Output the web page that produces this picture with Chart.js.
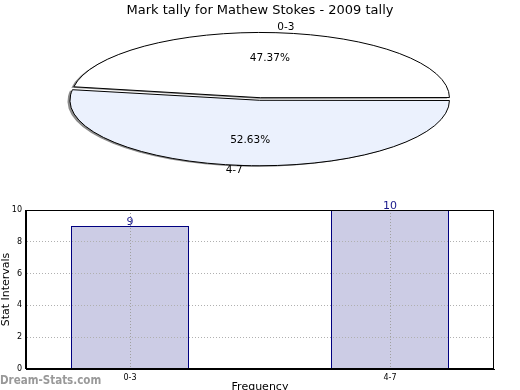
<!DOCTYPE html>
<html><head><meta charset="utf-8">
<script src="https://cdn.jsdelivr.net/npm/chart.js@4"></script>
<style>
html,body{margin:0;padding:0;background:#fff;overflow:hidden;width:520px;height:390px}
canvas{position:absolute;left:0;top:0}
</style></head><body>
<canvas id="pie" width="520" height="440"></canvas>
<canvas id="bar" width="520" height="400"></canvas>
<script>
// ---- data ----
const chartTitle = 'Mark tally for Mathew Stokes - 2009 tally';
const categories = ['0-3', '4-7'];
const tallies = [9, 10];
const yTickValues = [0, 2, 4, 6, 8, 10];
const xAxisTitle = 'Frequency';
const yAxisTitle = 'Stat Intervals';
const watermark = 'Dream-Stats.com';

// ---- styling / layout ----
const FAMILY = "'DejaVu Sans', sans-serif";
const pieColors = ['#ffffff', '#ebf1fd'];
const PIE_CY = 99;      // screen y of pie centre
const PIE_K = 0.345;    // vertical squash of the pie
const total = tallies.reduce((a, b) => a + b, 0);

const pieSquash = {
  id: 'pieSquash',
  beforeDatasetsDraw(chart) {
    const ctx = chart.ctx;
    const arc = chart.getDatasetMeta(0).data[0];
    const base = ctx.getTransform();
    ctx.save();
    ctx.translate(arc.x, PIE_CY);
    ctx.scale(1, PIE_K);
    ctx.translate(-arc.x, -arc.y);
    ctx.shadowColor = 'rgba(100,100,100,0.75)';
    ctx.shadowOffsetX = -2.5;
    ctx.shadowOffsetY = 1;
    ctx.shadowBlur = 0;
    const proto = Object.getPrototypeOf(ctx);
    ctx.stroke = function (...a) {
      this.save();
      this.setTransform(base);
      this.shadowColor = 'rgba(0,0,0,0)';
      proto.stroke.apply(this, a);
      this.restore();
    };
  },
  afterDatasetsDraw(chart) {
    const ctx = chart.ctx;
    delete ctx.stroke;
    ctx.restore();
    // labels
    const meta = chart.getDatasetMeta(0);
    ctx.save();
    ctx.fillStyle = '#000';
    ctx.font = '10.5px ' + FAMILY;
    ctx.textBaseline = 'middle';
    meta.data.forEach((el, i) => {
      const mid = (el.startAngle + el.endAngle) / 2;
      const R = el.outerRadius;
      const sh = (el.options.offset || 0) / 2;
      const c = Math.cos(mid), s = Math.sin(mid);
      const pr = R * 0.6 + sh;
      ctx.textAlign = 'center';
      ctx.fillText((tallies[i] / total * 100).toFixed(2) + '%', el.x + c * pr, PIE_CY + PIE_K * s * pr);
      const lr = R * 1.08 + sh;
      ctx.textAlign = c >= 0 ? 'left' : 'right';
      ctx.fillText(categories[i], el.x + c * lr, PIE_CY + PIE_K * s * lr);
    });
    ctx.restore();
  }
};

new Chart(document.getElementById('pie'), {
  type: 'pie',
  data: {
    labels: categories,
    datasets: [{
      data: tallies,
      backgroundColor: pieColors,
      borderColor: '#000',
      borderWidth: 1,
      offset: 15,
      radius: 186,
      clip: false
    }]
  },
  options: {
    responsive: false,
    animation: false,
    devicePixelRatio: 1,
    rotation: 90 - tallies[0] / total * 360,
    layout: { padding: 0 },
    plugins: {
      legend: { display: false },
      tooltip: { enabled: false },
      title: { display: true, text: chartTitle, color: '#000', font: { family: FAMILY, size: 13, weight: 'normal' }, padding: { top: 3, bottom: 4 } }
    }
  },
  plugins: [pieSquash]
});

const barExtras = {
  id: 'barExtras',
  afterDraw(chart) {
    const ctx = chart.ctx, a = chart.chartArea;
    ctx.save();
    ctx.strokeStyle = '#000';
    ctx.lineWidth = 1;
    ctx.strokeRect(Math.round(a.left) - 0.5, Math.round(a.top) + 0.5, Math.round(a.right - a.left), Math.round(a.bottom - a.top) - 1);
    const meta = chart.getDatasetMeta(0);
    ctx.fillStyle = '#1a1a8c';
    ctx.font = '11px ' + FAMILY;
    ctx.textAlign = 'center';
    ctx.textBaseline = 'alphabetic';
    meta.data.forEach((el, i) => {
      ctx.fillText(String(tallies[i]), el.x, el.y - 1);
    });
    ctx.fillStyle = '#999999';
    ctx.font = "bold 11.5px 'DejaVu Sans Condensed', 'DejaVu Sans', sans-serif";
    ctx.textAlign = 'left';
    ctx.textBaseline = 'alphabetic';
    ctx.fillText(watermark, 0, 384);
    ctx.restore();
  }
};

new Chart(document.getElementById('bar'), {
  type: 'bar',
  data: {
    datasets: [{
      data: categories.map((c, i) => ({ x: i, y: tallies[i] })),
      backgroundColor: '#ccccE5',
      borderColor: '#000080',
      borderWidth: 1,
      inflateAmount: 0,
      barPercentage: 118 / 260,
      categoryPercentage: 1
    }]
  },
  options: {
    responsive: false,
    animation: false,
    devicePixelRatio: 1,
    layout: { padding: { top: 210, right: 26, left: 0, bottom: 0 } },
    plugins: { legend: { display: false }, tooltip: { enabled: false } },
    scales: {
      x: {
        type: 'linear', min: -0.4, max: 1.4, offset: false,
        afterBuildTicks: s => { s.ticks = categories.map((c, i) => ({ value: i })); },
        afterFit: s => { s.height = 31; },
        ticks: { callback: v => categories[v] ?? '', font: { family: FAMILY, size: 8 }, color: '#000', padding: 4, autoSkip: false, maxRotation: 0 },
        grid: { color: '#a0a0a0', drawTicks: false, offset: false, z: 1 },
        border: { display: true, color: '#000', dash: [1, 2], z: 2 },
        title: { display: true, text: xAxisTitle, color: '#000', font: { family: FAMILY, size: 11 }, padding: { top: 0, bottom: 6 } }
      },
      y: {
        min: 0, max: 10,
        afterBuildTicks: s => { s.ticks = yTickValues.map(v => ({ value: v })); },
        afterFit: s => { s.width = 26; },
        ticks: { font: { family: FAMILY, size: 8 }, color: '#000', padding: 4 },
        grid: { color: c => (c.tick && (c.tick.value === 0 || c.tick.value === 10)) ? 'rgba(0,0,0,0)' : '#b0b0b0', drawTicks: false, z: 1 },
        border: { display: true, color: '#000', dash: [1, 2], z: 2 },
        title: { display: true, text: yAxisTitle, color: '#000', font: { family: FAMILY, size: 11 }, padding: { top: 0, bottom: 0 } }
      }
    }
  },
  plugins: [barExtras]
});
</script>
</body></html>
